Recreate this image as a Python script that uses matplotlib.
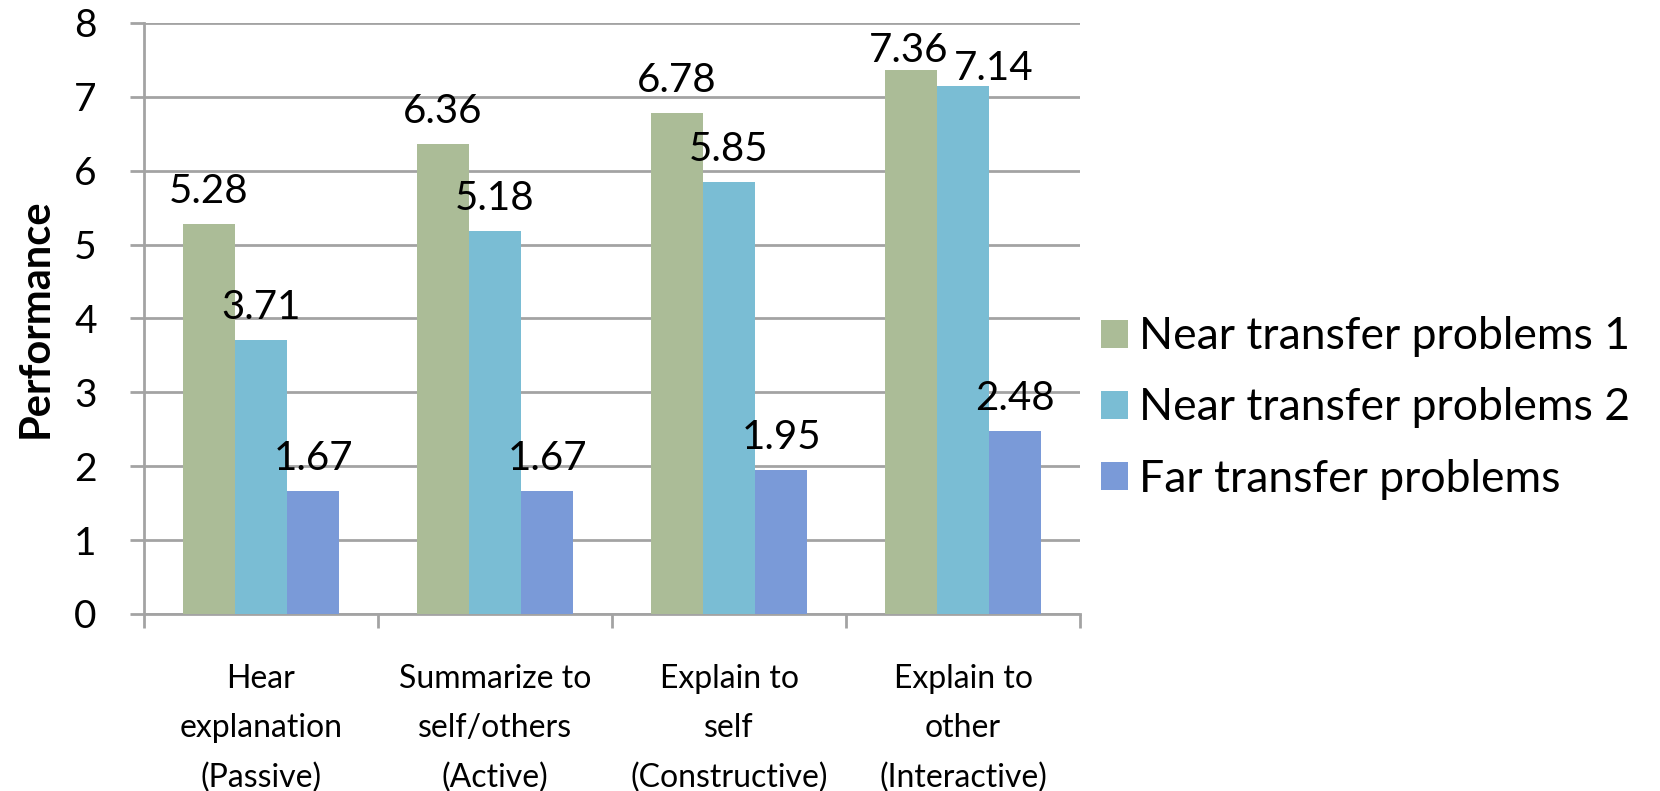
import numpy as np
import matplotlib
matplotlib.use('Agg')
import matplotlib.pyplot as plt

plt.rcParams['font.family'] = ['Lato', 'DejaVu Sans']

categories = ['Hear\nexplanation\n(Passive)', 'Summarize to\nself/others\n(Active)',
              'Explain to\nself\n(Constructive)', 'Explain to\nother\n(Interactive)']
series_names = ['Near transfer problems 1', 'Near transfer problems 2', 'Far transfer problems']
near1 = [5.28, 6.36, 6.78, 7.36]
near2 = [3.71, 5.18, 5.85, 7.14]
far = [1.67, 1.67, 1.95, 2.48]
colors = ['#ABBC97', '#7ABDD4', '#7A9AD8']
grid_c = '#A3A3A3'

# labels near the top get squeezed down, the crowded one nudged right
label_shift = {(0, 3): (-2, 6), (1, 3): (22, 4.5)}

fig = plt.figure(figsize=(16.6, 7.91), dpi=100)
ax = fig.add_axes([0.0867, 0.2238, 0.564, 0.7472])

x = np.arange(len(categories))
w = 0.223
for j, (vals, name) in enumerate(zip([near1, near2, far], series_names)):
    bars = ax.bar(x + (j - 1) * w, vals, w, color=colors[j], label=name, zorder=3)
    for i, (b, v) in enumerate(zip(bars, vals)):
        dx, dy = label_shift.get((j, i), (0, 15))
        ax.annotate('%.2f' % v, (b.get_x() + b.get_width() / 2, v),
                    xytext=(dx, dy), textcoords='offset points',
                    ha='center', va='baseline', fontsize=29, zorder=4,
                    annotation_clip=False)

ax.set_xlim(-0.5, 3.5)
ax.set_ylim(0, 8)
ax.set_yticks(range(9))
ax.yaxis.grid(True, color=grid_c, linewidth=2, zorder=0)
ax.tick_params(axis='y', labelsize=28, length=10, width=2, color=grid_c, pad=24)

ax.set_xticks(x)
ax.set_xticklabels(categories, fontsize=23, linespacing=1.8)
ax.set_xticks(np.arange(-0.5, 4, 1), minor=True)
ax.tick_params(axis='x', which='major', length=0, pad=36)
ax.tick_params(axis='x', which='minor', length=10, width=2, color=grid_c)

for s in ['top', 'right']:
    ax.spines[s].set_visible(False)
for s in ['left', 'bottom']:
    ax.spines[s].set_color(grid_c)
    ax.spines[s].set_linewidth(2)

ax.set_ylabel('Performance', fontsize=30, fontweight='bold', labelpad=14)

ax.legend(loc='center left', bbox_to_anchor=(1101 / 1660, 1 - 408 / 791),
          bbox_transform=fig.transFigure, frameon=False, borderpad=0,
          borderaxespad=0, fontsize=32, handlelength=0.6, handleheight=0.6,
          handletextpad=0.25, labelspacing=0.68)

fig.savefig('out.png', dpi=100)
